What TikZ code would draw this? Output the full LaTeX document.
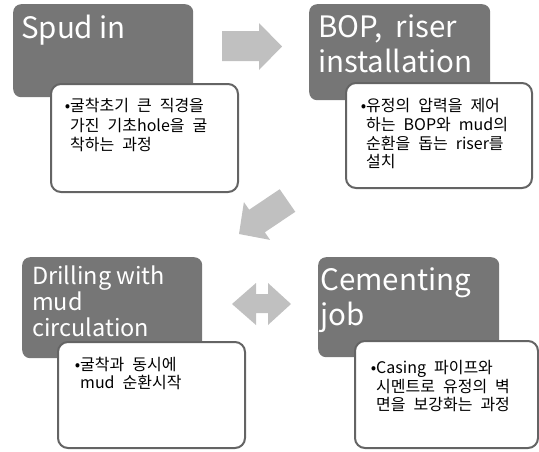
\documentclass[tikz,border=0pt]{standalone}
\usepackage{fontspec}
\setmainfont{Noto Sans CJK KR}
\newcommand\mybodyfont{\fontsize{16}{19}\selectfont\spaceskip=0.5em\relax}
\definecolor{darkbox}{RGB}{118,118,118}
\definecolor{arrowgray}{RGB}{192,192,192}
\definecolor{edgegray}{RGB}{100,100,100}
\begin{document}
\begin{tikzpicture}[x=1pt,y=-1pt,
  darkcard/.style={fill=darkbox, rounded corners=8pt, anchor=north west, inner sep=0pt},
  whitecard/.style={fill=white, draw=edgegray, line width=2pt, rounded corners=10pt, anchor=north west, inner sep=0pt},
  bigtitle/.style={text=white, anchor=base west, inner sep=0pt, font=\fontsize{29.5}{35}\selectfont},
  smalltitle/.style={text=white, anchor=base west, inner sep=0pt, font=\fontsize{23.5}{26}\selectfont},
  bodyline/.style={text=black, anchor=base west, inner sep=0pt, font=\mybodyfont},
  bigarrow/.style={fill=arrowgray, draw=none}
]
\useasboundingbox (0,0) rectangle (539,451);

% ---- Spud in
\node[darkcard, minimum width=180pt, minimum height=93pt] (d1) at (13,4) {};
\node[bigtitle] (t1) at (21,38) {Spud in};
\node[whitecard, minimum width=187pt, minimum height=108pt] (c1) at (50,83) {};
\node[bodyline] (b1a) at (70,111) {\llap{•}굴착초기 큰 직경을};
\node[bodyline] (b1b) at (70,131) {가진 기초hole을 굴};
\node[bodyline] (b1c) at (70,150) {착하는 과정};

% ---- BOP, riser installation
\node[darkcard, minimum width=181pt, minimum height=96pt] (d2) at (309,4) {};
\node[bigtitle] (t2a) at (318,37) {BOP,\ \ riser};
\node[bigtitle] (t2b) at (318,72) {installation};
\node[whitecard, minimum width=186pt, minimum height=105pt] (c2) at (345,82) {};
\node[bodyline] (b2a) at (366,111) {\llap{•}유정의 압력을 제어};
\node[bodyline] (b2b) at (366,130) {하는 BOP와 mud의};
\node[bodyline] (b2c) at (366,149) {순환을 돕는 riser를};
\node[bodyline] (b2d) at (366,167) {설치};

% ---- Drilling with mud circulation
\node[darkcard, minimum width=180pt, minimum height=101pt] (d3) at (22,257) {};
\node[smalltitle] (t3a) at (32,284.5) {Drilling with};
\node[smalltitle] (t3b) at (32,310.5) {mud};
\node[smalltitle] (t3c) at (32,336.5) {circulation};
\node[whitecard, minimum width=187pt, minimum height=106pt] (c3) at (57,341) {};
\node[bodyline] (b3a) at (80,370) {\llap{•}굴착과 동시에};
\node[bodyline] (b3b) at (80,388) {mud 순환시작};

% ---- Cementing job
\node[darkcard, minimum width=181pt, minimum height=100pt] (d4) at (318,257) {};
\node[bigtitle] (t4a) at (320,290) {Cementing};
\node[bigtitle] (t4b) at (320,325) {job};
\node[whitecard, minimum width=183pt, minimum height=107pt] (c4) at (354,340) {};
\node[bodyline] (b4a) at (376,373) {\llap{•}Casing 파이프와};
\node[bodyline] (b4b) at (376,392) {시멘트로 유정의 벽};
\node[bodyline] (b4c) at (376,410) {면을 보강화는 과정};

% ---- arrows
\fill[bigarrow] (222,31) -- (259,31) -- (259,23) -- (282,46.5) -- (259,70) -- (259,61) -- (222,61) -- cycle;
\fill[bigarrow] (295.3,211.8) -- (264.8,232.3) -- (270.1,239.9) -- (239,234) -- (243.9,202.1) -- (249.2,209.7) -- (279.7,189.2) -- cycle;
\fill[bigarrow] (232,304) -- (256,283) -- (256,294) -- (268,294) -- (268,283) -- (291,304) -- (268,325) -- (268,313) -- (256,313) -- (256,325) -- cycle;
\end{tikzpicture}
\end{document}
